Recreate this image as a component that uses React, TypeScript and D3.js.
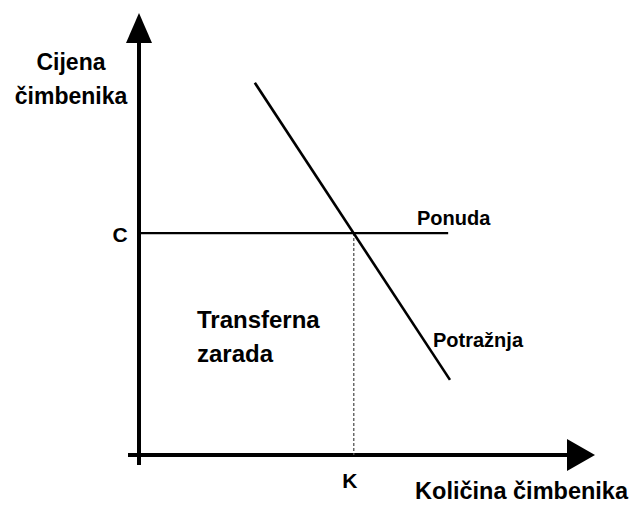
import React from "react";
import * as d3 from "d3";

const quantityDomain = [0, 100];
const priceDomain = [0, 100];
const demandQ = [25.4, 68.2];
const demandP = [84.2, 17.0];
const supplyQ = [0, 67.8];
const supplyP = [50.2, 50.2];
const equilibriumQ = 47.1;
const equilibriumP = 50.2;
const yTitle = ["Cijena", "čimbenika"];
const xTitle = "Količina čimbenika";
const priceTick = "C";
const quantityTick = "K";
const supplyLabel = "Ponuda";
const demandLabel = "Potražnja";
const areaLabel = ["Transferna", "zarada"];

const W = 633;
const H = 505;
const FONT = "'Liberation Sans', Arial, sans-serif";

export default function App() {
  const x = d3.scaleLinear().domain(quantityDomain).range([139, 595]);
  const y = d3.scaleLinear().domain(priceDomain).range([455, 13]);
  const line = d3
    .line<[number, number]>()
    .x((d) => x(d[0]))
    .y((d) => y(d[1]));
  const demand = d3.zip(demandQ, demandP) as [number, number][];
  const supply = d3.zip(supplyQ, supplyP) as [number, number][];

  const x0 = x(0);
  const y0 = y(0);
  const xTip = x(quantityDomain[1]);
  const yTip = y(priceDomain[1]);

  return (
    <svg
      width={W}
      height={H}
      style={{ position: "absolute", left: 0, top: 0, display: "block", background: "#fff" }}
    >
      {/* axes */}
      <line x1={x0} x2={x0} y1={y0 + 10} y2={yTip + 28} stroke="#000" strokeWidth={4} />
      <path
        d={`M${x0},${yTip} L${x0 - 13},${yTip + 30} L${x0 + 13},${yTip + 30} Z`}
        fill="#000"
      />
      <line x1={x0 - 11} x2={xTip - 26} y1={y0} y2={y0} stroke="#000" strokeWidth={4} />
      <path
        d={`M${xTip},${y0} L${xTip - 28},${y0 - 16} L${xTip - 28},${y0 + 16} Z`}
        fill="#000"
      />

      {/* dashed guide */}
      <line
        x1={x(equilibriumQ)}
        x2={x(equilibriumQ)}
        y1={y(equilibriumP)}
        y2={y0}
        stroke="#555"
        strokeWidth={1.3}
        strokeDasharray="3,2"
      />

      {/* supply */}
      <path d={line(supply) || ""} fill="none" stroke="#000" strokeWidth={2.2} />
      {/* demand */}
      <path d={line(demand) || ""} fill="none" stroke="#000" strokeWidth={2.6} />

      <g fontFamily={FONT} fontWeight="bold" fill="#000">
        <text x={71} y={70} fontSize={23} textAnchor="middle">{yTitle[0]}</text>
        <text x={71} y={104} fontSize={23} textAnchor="middle">{yTitle[1]}</text>
        <text x={120} y={y(equilibriumP) + 9} fontSize={21} textAnchor="middle">{priceTick}</text>
        <text x={x(equilibriumQ) - 4} y={488} fontSize={21} textAnchor="middle">{quantityTick}</text>
        <text x={628} y={499} fontSize={23.5} textAnchor="end">{xTitle}</text>
        <text x={417} y={225} fontSize={20}>{supplyLabel}</text>
        <text x={433} y={347} fontSize={20}>{demandLabel}</text>
        <text x={197} y={328} fontSize={24}>{areaLabel[0]}</text>
        <text x={197} y={362} fontSize={24}>{areaLabel[1]}</text>
      </g>
    </svg>
  );
}
